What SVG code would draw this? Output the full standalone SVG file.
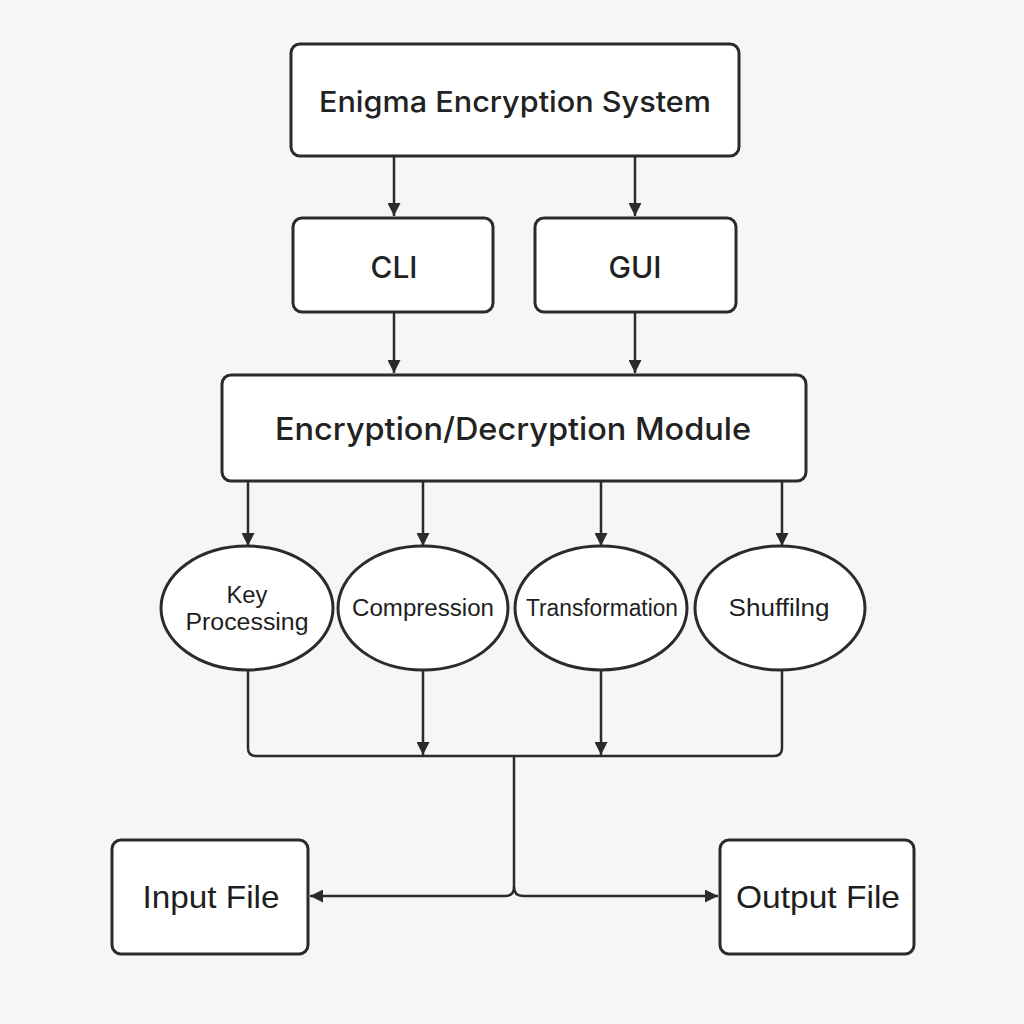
<svg xmlns="http://www.w3.org/2000/svg" width="1024" height="1024" viewBox="0 0 1024 1024">
<defs>
<marker id="a" viewBox="0 0 12 12" refX="12" refY="6" markerWidth="13" markerHeight="13" orient="auto" markerUnits="userSpaceOnUse"><path d="M0,0 L12,6 L0,12 z" fill="#2b2b2b"/></marker>
<style>
.box{fill:#ffffff;stroke:#2b2b2b;stroke-width:3}
.ell{fill:#ffffff;stroke:#2b2b2b;stroke-width:3}
.t{font-family:Inter,"Liberation Sans",Arial,sans-serif;font-weight:500;fill:#222222;text-anchor:middle;dominant-baseline:central}
.n{font-family:"Liberation Sans",Arial,sans-serif;fill:#1e1e1e;text-anchor:middle;dominant-baseline:central}
.c{fill:none;stroke:#2b2b2b;stroke-width:2.5}
</style>
</defs>
<rect width="1024" height="1024" fill="#f6f6f6"/>
<g id="connectors">
<path class="c" d="M394,157 V216" marker-end="url(#a)"/>
<path class="c" d="M635,157 V216" marker-end="url(#a)"/>
<path class="c" d="M394,313 V373" marker-end="url(#a)"/>
<path class="c" d="M635,313 V373" marker-end="url(#a)"/>
<path class="c" d="M248,482 V546" marker-end="url(#a)"/>
<path class="c" d="M423,482 V546" marker-end="url(#a)"/>
<path class="c" d="M601,482 V546" marker-end="url(#a)"/>
<path class="c" d="M782,482 V546" marker-end="url(#a)"/>
<path class="c" d="M248,670 V748 Q248,756 256,756 H774 Q782,756 782,748 V670"/>
<path class="c" d="M423,670 V755" marker-end="url(#a)"/>
<path class="c" d="M601,670 V755" marker-end="url(#a)"/>
<path class="c" d="M514,756 V887 Q514,896 505,896 H310" marker-end="url(#a)"/>
<path class="c" d="M514,887 Q514,896 523,896 H718" marker-end="url(#a)"/>
</g>
<g id="n-system">
<rect class="box" x="291" y="44" width="448" height="112" rx="9"/>
<text class="t" x="515" y="101" font-size="29" textLength="392" lengthAdjust="spacingAndGlyphs">Enigma Encryption System</text>
</g>
<g id="n-cli">
<rect class="box" x="293" y="218" width="200" height="94" rx="9"/>
<text class="t" x="394" y="267" font-size="30" textLength="47" lengthAdjust="spacingAndGlyphs">CLI</text>
</g>
<g id="n-gui">
<rect class="box" x="535" y="218" width="201" height="94" rx="9"/>
<text class="t" x="635" y="267" font-size="30" textLength="53" lengthAdjust="spacingAndGlyphs">GUI</text>
</g>
<g id="n-module">
<rect class="box" x="222" y="375" width="584" height="106" rx="9"/>
<text class="t" x="513" y="428" font-size="31" textLength="476" lengthAdjust="spacingAndGlyphs">Encryption/Decryption Module</text>
</g>
<g id="n-key">
<ellipse class="ell" cx="247" cy="608" rx="86" ry="62"/>
<text class="n" x="247" y="595" font-size="23" textLength="41" lengthAdjust="spacingAndGlyphs">Key</text>
<text class="n" x="247" y="622" font-size="23" textLength="123" lengthAdjust="spacingAndGlyphs">Processing</text>
</g>
<g id="n-compression">
<ellipse class="ell" cx="423" cy="608" rx="85" ry="62"/>
<text class="n" x="423" y="608" font-size="23" textLength="142" lengthAdjust="spacingAndGlyphs">Compression</text>
</g>
<g id="n-transformation">
<ellipse class="ell" cx="601" cy="608" rx="86" ry="62"/>
<text class="n" x="602" y="608" font-size="23" textLength="152" lengthAdjust="spacingAndGlyphs">Transformation</text>
</g>
<g id="n-shuffling">
<ellipse class="ell" cx="780" cy="608" rx="85" ry="62"/>
<text class="n" x="779" y="608" font-size="23" textLength="101" lengthAdjust="spacingAndGlyphs">Shuffilng</text>
</g>
<g id="n-input">
<rect class="box" x="112" y="840" width="196" height="114" rx="9"/>
<text class="n" x="211" y="897" font-size="32" textLength="137" lengthAdjust="spacingAndGlyphs">Input File</text>
</g>
<g id="n-output">
<rect class="box" x="720" y="840" width="194" height="114" rx="9"/>
<text class="n" x="818" y="897" font-size="32" textLength="164" lengthAdjust="spacingAndGlyphs">Output File</text>
</g>
</svg>
